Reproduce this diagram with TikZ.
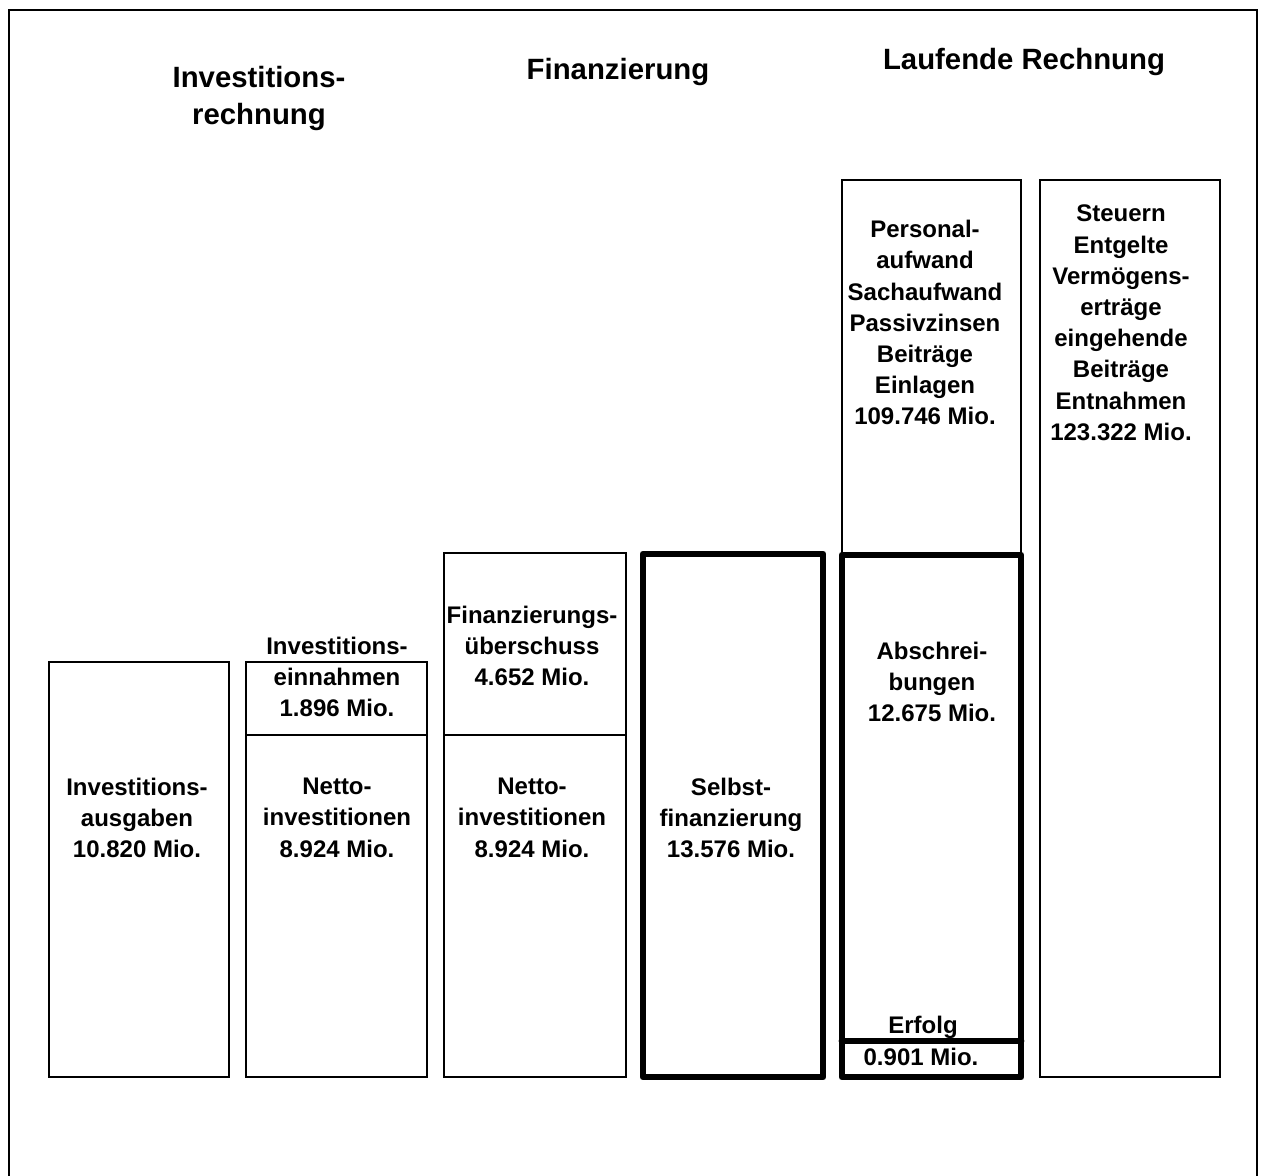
\documentclass[tikz,border=0pt]{standalone}
\usepackage{fontspec}
\setmainfont{Liberation Sans}
\usetikzlibrary{fit}
\newcommand\bstrut{\rule[-5pt]{0pt}{22.9pt}}
\newcommand\tistrut{\rule[-6pt]{0pt}{27.75pt}}
\tikzset{
  thinbox/.style={draw, line width=1.4pt, inner sep=0pt},
  thickbox/.style={draw, line width=5.2pt, line join=round, inner sep=0pt},
  thickline/.style={line width=5.2pt, line cap=round},
  txt/.style={align=center, inner sep=0pt,
    font=\fontsize{18}{23.4}\selectfont\bfseries,
    execute at begin node=\bstrut, execute at end node=\bstrut},
  ttl/.style={align=center, inner sep=0pt,
    font=\fontsize{22}{28}\selectfont\bfseries,
    execute at begin node=\tistrut, execute at end node=\tistrut},
}
\begin{document}
\begin{tikzpicture}[x=0.75pt,y=-0.75pt]
\useasboundingbox (0,0) rectangle (1261,1176);
\fill[white] (0,0) rectangle (1261,1176);
% outer frame
\draw[line width=1.1pt] (9,1200) -- (9,10) -- (1257,10) -- (1257,1200);

% titles
\node[ttl] (tinv) at (259,99.5) {Investitions-\\rechnung};
\node[ttl] (tfin) at (618,69) {Finanzierung};
\node[ttl] (tlau) at (1024,59) {Laufende Rechnung};

% boxes
\node[thinbox, fit={(49,662)(229,1077)}] (b1) {};
\node[thinbox, fit={(246,662)(427,735)}] (b2u) {};
\node[thinbox, fit={(246,735)(427,1077)}] (b2l) {};
\node[thinbox, fit={(444,553)(626,735)}] (b3u) {};
\node[thinbox, fit={(444,735)(626,1077)}] (b3l) {};
\node[thickbox, fit={(643,554)(823,1077)}] (b4) {};
\node[thinbox, fit={(842,180)(1021,555)}] (b5u) {};
\node[thickbox, fit={(842,555)(1021,1077)}] (b5l) {};
\coordinate (e1) at (842,1041);
\coordinate (e2) at (1021,1041);
\draw[thickline] (e1) -- (e2);
\node[thinbox, fit={(1040,180)(1220,1077)}] (b6) {};

% texts
\node[txt] (x1) at (137,821) {Investitions-\\ausgaben\\10.820 Mio.};
\node[txt] (x2u) at (337,680) {Investitions-\\einnahmen\\1.896 Mio.};
\node[txt] (x2l) at (337,821) {Netto-\\investitionen\\8.924 Mio.};
\node[txt] (x3u) at (532,649) {Finanzierungs-\\überschuss\\4.652 Mio.};
\node[txt] (x3l) at (532,821) {Netto-\\investitionen\\8.924 Mio.};
\node[txt] (x4) at (731,821) {Selbst-\\finanzierung\\13.576 Mio.};
\node[txt] (x5u) at (925,326) {Personal-\\aufwand\\Sachaufwand\\Passivzinsen\\Beiträge\\Einlagen\\109.746 Mio.};
\node[txt] (x5m) at (932,685) {Abschrei-\\bungen\\12.675 Mio.};
\node[txt] (x5e) at (923,1025) {Erfolg};
\node[txt] (x5v) at (921,1057) {0.901 Mio.};
\node[txt] (x6) at (1121,326) {Steuern\\Entgelte\\Vermögens-\\erträge\\eingehende\\Beiträge\\Entnahmen\\123.322 Mio.};
\end{tikzpicture}
\end{document}
